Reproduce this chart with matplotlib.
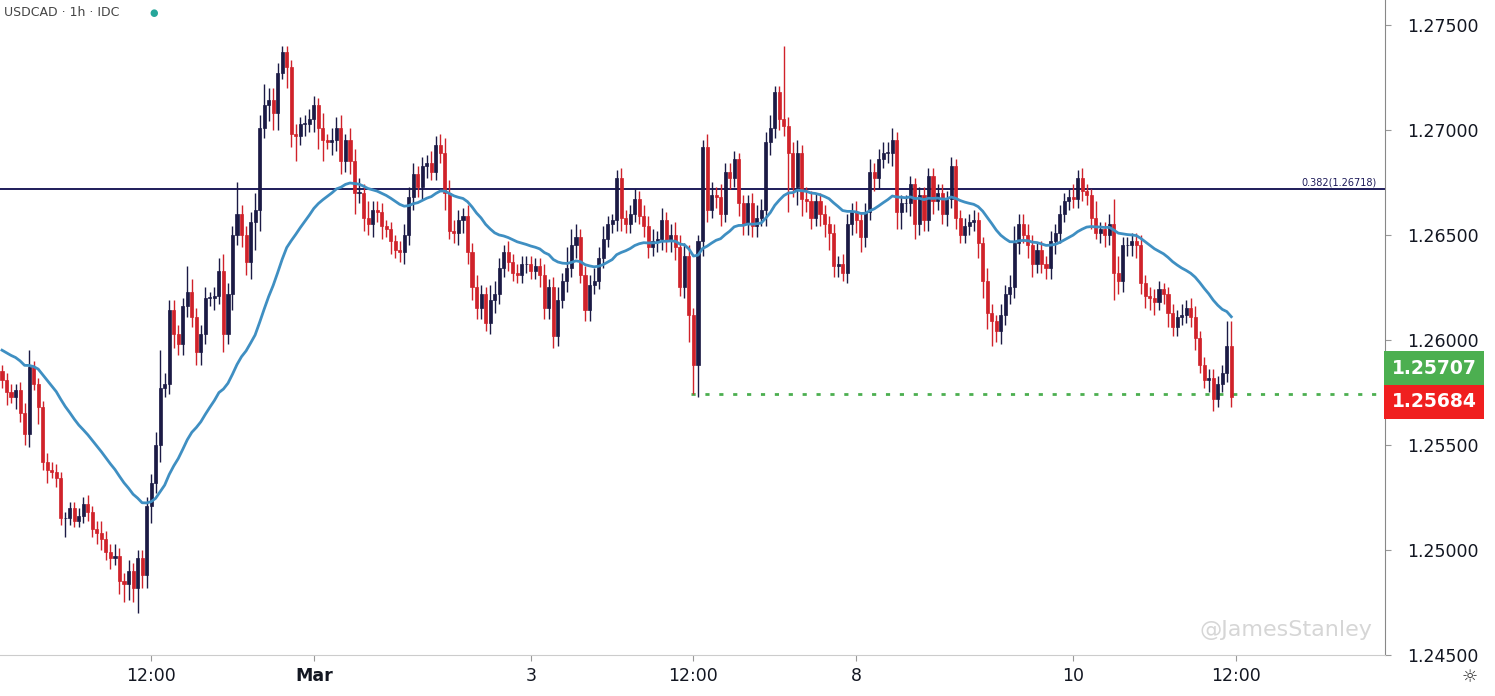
import matplotlib
matplotlib.use("Agg")
import matplotlib.pyplot as plt
import matplotlib.transforms as mtransforms
import numpy as np

closes = [
1.2581,1.2575,1.2573,1.2576,1.2565,1.2555,1.2587,1.2579,1.2568,1.2542,
1.2538,1.2537,1.2534,1.2515,1.2515,1.2520,1.2514,1.2516,1.2522,1.2518,
1.2510,1.2508,1.2505,1.2499,1.2496,1.2497,1.2485,1.2484,1.2490,1.2482,
1.2496,1.2488,1.2521,1.2532,1.2550,1.2577,1.2579,1.2614,1.2603,1.2598,
1.2616,1.2623,1.2611,1.2594,1.2603,1.2620,1.2620,1.2621,1.2633,1.2603,
1.2622,1.2650,1.2660,1.2650,1.2637,1.2656,
1.2662,1.2701,1.2712,1.2714,1.2708,1.2727,1.2737,1.2730,1.2698,1.2697,
1.2703,1.2703,1.2705,1.2712,1.2701,1.2695,1.2694,1.2695,1.2701,1.2685,
1.2695,1.2685,1.2670,1.2670,1.2658,1.2655,1.2662,1.2661,1.2654,1.2653,
1.2647,1.2643,1.2642,1.2650,1.2668,1.2679,1.2673,1.2683,1.2684,1.2680,
1.2693,1.2689,1.2670,1.2652,1.2651,1.2657,1.2659,1.2642,1.2625,1.2615,
1.2622,1.2608,1.2619,
1.2622,1.2634,1.2642,1.2637,1.2632,1.2631,1.2636,1.2636,1.2633,1.2635,
1.2631,1.2615,1.2625,1.2602,1.2619,1.2628,1.2634,1.2645,1.2649,1.2631,
1.2614,1.2626,1.2628,1.2639,1.2648,1.2655,1.2657,1.2677,1.2658,1.2655,
1.2660,1.2667,1.2659,1.2654,1.2644,1.2647,1.2648,1.2657,1.2647,1.2650,
1.2644,1.2625,1.2640,1.2612,1.2588,1.2647,1.2692,1.2662,1.2669,1.2668,
1.2660,1.2680,1.2677,
1.2686,1.2665,1.2655,1.2665,1.2654,1.2658,1.2662,1.2694,1.2701,1.2718,
1.2705,1.2702,1.2689,1.2673,1.2689,1.2667,1.2666,1.2658,1.2666,1.2660,
1.2655,1.2651,1.2635,1.2636,1.2632,1.2655,1.2661,1.2657,1.2649,1.2661,
1.2680,1.2677,1.2686,1.2689,1.2689,1.2695,1.2661,1.2665,1.2665,1.2674,
1.2655,1.2669,1.2657,1.2678,1.2666,1.2670,1.2660,1.2667,1.2683,1.2658,
1.2650,1.2654,1.2656,
1.2657,1.2646,1.2628,1.2613,1.2609,1.2604,1.2612,1.2622,1.2625,1.2646,
1.2655,1.2650,1.2645,1.2636,1.2643,1.2636,1.2634,1.2647,1.2651,1.2660,
1.2666,1.2668,1.2667,1.2677,1.2671,1.2669,1.2658,1.2651,1.2653,1.2650,
1.2655,1.2632,1.2628,1.2645,1.2645,1.2647,1.2645,1.2627,1.2621,1.2620,
1.2618,1.2624,1.2622,1.2613,1.2606,1.2611,1.2612,1.2615,1.2611,1.2601,
1.2588,1.2581,1.2582,1.2572,1.2579,1.2584,1.2597,1.2573,
]
first_open = 1.2585

# upper / lower wick lengths in pips beyond the body
upper_wick = [
3,3,4,3,4,5,8,3,3,3, 4,4,4,3,3,3,3,4,3,4, 3,4,6,4,4,6,4,4,5,4,
4,4,4,4,6,18,5,5,5,4, 4,12,6,4,4,5,3,4,6,8, 5,4,15,4,4,5,
8,6,10,6,6,5,3,3,3,5, 3,4,5,4,3,7,3,6,5,6, 3,6,6,7,4,8,4,4,4,3,
3,3,4,5,5,5,4,4,4,6, 4,5,7,6,5,5,4,5,4,6,
4,3,7,6,5,3,5,4,4,4, 4,4,4,4,5,4,5,6,4,10, 8,6,4,4,5,6,5,6,4,3,
4,5,4,4,5,4,5,5,6,4, 6,4,5,6,6,6,5,3,3,3, 6,6,4,6,4,4,4,3,4,4,
5,6,5,5,6,3,3,35,4,5, 6,4,6,5,4,4,4,4,4,4, 5,5,4,5,4,4,6,4,5,5,
5,6,4,4,4,4,3,4,4,4, 4,4,4,4,4,3,4,4,4,5, 4,3,6,4,3,5,4,6,8,5,
5,5,5,3,4,4,5,4,4,4, 4,6,4,5,3,3,8,3,3,5, 12,8,4,4,4,4,5,4,4,4,
4,3,3,4,3,5,4,5,5,3, 4,4,4,4,4,12,12,
]
lower_wick = [
4,6,3,6,4,5,6,3,8,4, 6,3,4,3,9,3,3,3,3,4, 4,5,5,4,5,3,6,9,8,7,
12,6,6,8,5,8,4,5,7,5, 5,5,5,6,6,5,4,6,4,9, 5,8,5,6,6,8,
13,10,5,8,8,8,3,10,6,12, 4,6,4,6,10,10,3,6,5,6, 5,6,10,5,6,5,6,5,6,4,
6,4,5,6,5,6,5,6,6,4, 4,5,8,4,5,6,6,6,6,5,
5,4,5,6,5,4,4,4,4,4, 4,4,4,6,5,5,6,5,4,5, 4,6,4,5,5,4,4,5,4,4,
5,6,4,4,4,4,5,5,4,5, 5,5,5,6,4,5,13,14,15,7, 6,4,5,6,4,5,4,6,5,5,
5,5,4,8,6,5,5,5,28,5, 9,8,5,5,4,6,6,8,5,5, 4,5,5,6,7,5,4,6,5,4,
5,6,8,8,4,6,7,5,5,5, 6,4,5,6,4,5,4,4,4,4, 7,8,8,12,5,6,5,5,5,5,
4,6,6,4,4,5,5,6,5,4, 4,4,4,5,5,5,3,5,6,5, 13,6,5,5,5,6,5,6,6,6,
4,5,7,4,4,4,4,5,6,4, 4,6,6,4,4,4,5,
]
ma_seed = 1.2596
ma_span = 32
fib_level = 1.26718
fib_text = "0.382(1.26718)"
support_level = 1.2574
support_start = 153
bid_label = "1.25707"
last_label = "1.25684"
tick_pos = [33, 69, 117, 153, 189, 237, 273]
tick_lab = ["12:00", "Mar", "3", "12:00", "8", "10", "12:00"]
y_ticks = [1.245, 1.250, 1.255, 1.260, 1.265, 1.270, 1.275]

UP = "#1b1a45"
DN = "#d0222a"
MA_C = "#3f8fc2"

n = len(closes)
c = np.array(closes)
o = np.concatenate([[first_open], c[:-1]])
uw = np.array(upper_wick[:n] + [4] * max(0, n - len(upper_wick))) * 1e-4
lw = np.array(lower_wick[:n] + [4] * max(0, n - len(lower_wick))) * 1e-4
top = np.maximum(o, c)
bot = np.minimum(o, c)
hi = top + uw
lo = bot - lw
x = np.arange(n)

alpha = 2 / (ma_span + 1)
ma = np.empty(n)
prev = ma_seed
for i in range(n):
    prev = alpha * c[i] + (1 - alpha) * prev
    ma[i] = prev

fig = plt.figure(figsize=(14.95, 6.96), dpi=100)
ax = fig.add_axes([0, 0.059, 0.9264, 0.941])
up = c >= o
cols = np.where(up, UP, DN)
ax.vlines(x, lo, hi, colors=cols, linewidth=1.0, zorder=2)
h = np.maximum(top - bot, 0.00002)
ax.bar(x, h, bottom=bot, width=0.68, color=cols, edgecolor=cols, linewidth=0.5, zorder=3)
ax.plot(x, ma, color=MA_C, lw=2.0, zorder=4)

ax.axhline(fib_level, color="#1e1c5a", lw=1.4, zorder=1)
ax.text(0.994, fib_level + 0.00005, fib_text, transform=mtransforms.blended_transform_factory(ax.transAxes, ax.transData),
        ha="right", va="bottom", fontsize=7, color="#1e1c5a")
ax.hlines(support_level, support_start - 0.5, 320, colors="#4caf50", linestyles=(0, (1.5, 3.5)), lw=2.0, zorder=1)

ax.set_xlim(-0.44, 306)
ax.set_ylim(1.24520, 1.27618)
ax.yaxis.tick_right()
ax.set_yticks(y_ticks)
ax.set_yticklabels([f"{v:.5f}" for v in y_ticks], fontsize=12.5, color="#131722")
ax.set_xticks(tick_pos)
ax.set_xticklabels(tick_lab, fontsize=12.5, color="#131722")
for t in ax.get_xticklabels():
    if t.get_text() == "Mar":
        t.set_fontweight("bold")
ax.tick_params(axis="y", length=4, pad=12, color="#999999")
ax.tick_params(axis="x", length=4, pad=5, color="#999999")
for s in ["top", "left"]:
    ax.spines[s].set_visible(False)
ax.spines["right"].set_color("#888888")
ax.spines["bottom"].set_color("#cccccc")

bt = mtransforms.blended_transform_factory(ax.transAxes, ax.transData)
ax.text(1.005, c[-1] + 0.00135, bid_label, transform=bt, ha="left", va="center", fontsize=13.5,
        fontweight="bold", color="white", clip_on=False,
        bbox=dict(boxstyle="square,pad=0.4", fc="#4caf50", ec="none"))
ax.text(1.005, c[-1] - 0.00025, last_label, transform=bt, ha="left", va="center", fontsize=13.5,
        fontweight="bold", color="white", clip_on=False,
        bbox=dict(boxstyle="square,pad=0.4", fc="#f01f1f", ec="none"))

fig.text(0.003, 0.982, "USDCAD · 1h · IDC", fontsize=9, color="#444444", va="center")
fig.text(0.100, 0.982, "●", fontsize=7, color="#26a69a", va="center")
fig.text(0.918, 0.095, "@JamesStanley", fontsize=16, color="#bbbbbb", alpha=0.6, va="center", ha="right")
fig.text(0.983, 0.027, "☼", fontsize=13, color="#333333", ha="center", va="center")

fig.savefig("out.png", dpi=100)
